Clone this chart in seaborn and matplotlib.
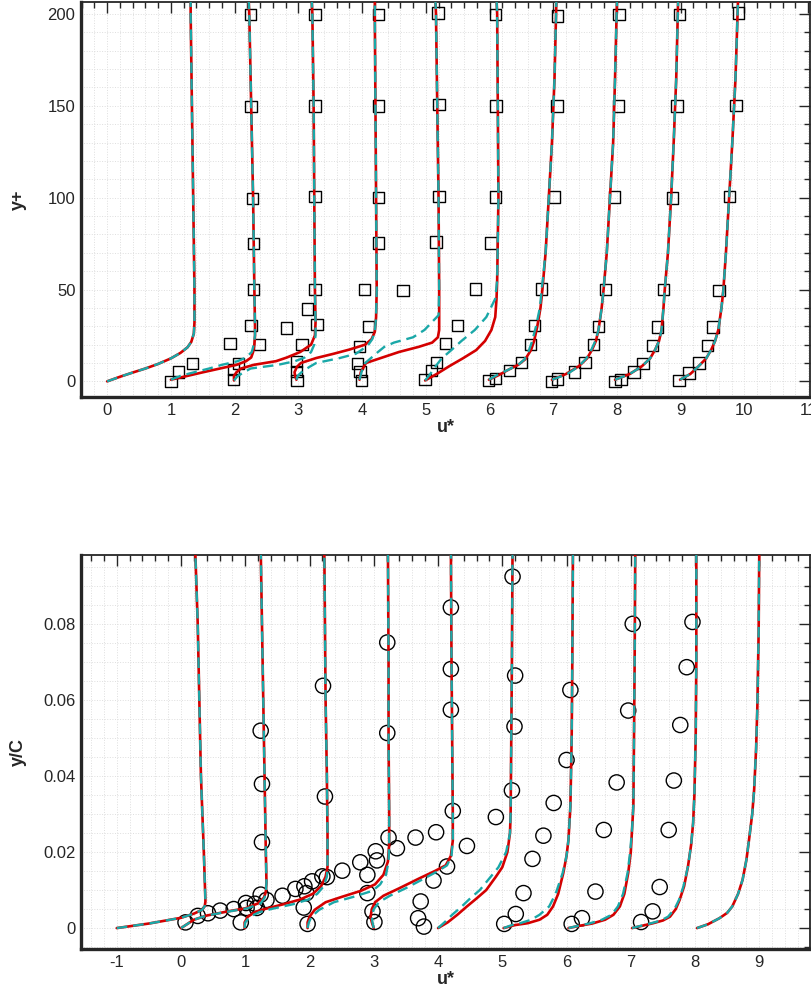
import numpy as np
import pandas as pd
import seaborn as sns
import matplotlib.pyplot as plt
from matplotlib.ticker import MultipleLocator, FuncFormatter

RED = "#d40000"
CYAN = "#1aa8a8"

# ---------------- top panel: y+ vs u* (each station shifted by 1) ----------------
top_y = [
    [0, 2.5, 4.8, 7, 9.5, 12.5, 15.5, 18.5, 21.5, 26, 32, 50, 100, 150, 200, 208],
    [0.9, 3, 5, 7, 9, 11, 13, 16, 20, 25, 30, 50, 100, 150, 200, 208],
    [0.5, 3, 5, 7, 9, 11, 13, 16, 20, 25, 32, 50, 100, 150, 200, 208],
    [0.9, 3, 5, 8, 10, 12.7, 15, 17.3, 20, 23, 27, 35, 50, 100, 150, 200, 208],
    [0.9, 5, 10, 13, 16, 18.8, 21.1, 24, 28, 36, 50, 100, 150, 200, 208],
    [0.5, 4, 8.5, 12.5, 17, 22, 28, 35, 45, 55, 100, 150, 200, 208],
    [0.9, 3.5, 6.4, 9, 12, 17, 22, 30, 40, 50, 70, 100, 130, 165, 208],
    [0.9, 4, 8.2, 12.5, 17.3, 22, 28, 40, 50, 70, 100, 130, 165, 208],
    [0.9, 4, 8.2, 12.5, 17.3, 22, 28, 40, 50, 70, 100, 130, 165, 208],
    [0.9, 4, 8.2, 12.5, 17.3, 22, 28, 40, 50, 70, 100, 130, 165, 208],
]
top_red = [
    [0, 0.2, 0.4, 0.6, 0.8, 1.0, 1.15, 1.26, 1.32, 1.36, 1.37, 1.37, 1.35, 1.33, 1.31, 1.31],
    [1.0, 1.26, 1.51, 1.77, 2.03, 2.18, 2.26, 2.29, 2.31, 2.32, 2.32, 2.31, 2.29, 2.26, 2.23, 2.22],
    [1.99, 1.99, 2.03, 2.1, 2.3, 2.65, 2.82, 3.03, 3.2, 3.26, 3.27, 3.26, 3.25, 3.24, 3.22, 3.21],
    [2.97, 2.95, 2.94, 2.98, 3.04, 3.28, 3.55, 3.8, 4.05, 4.15, 4.2, 4.22, 4.23, 4.22, 4.21, 4.2, 4.2],
    [3.96, 3.98, 4.06, 4.32, 4.58, 4.89, 5.1, 5.19, 5.21, 5.21, 5.21, 5.2, 5.18, 5.16, 5.15],
    [4.99, 5.17, 5.38, 5.58, 5.79, 5.93, 6.03, 6.09, 6.11, 6.12, 6.14, 6.13, 6.12, 6.11],
    [5.99, 6.15, 6.3, 6.45, 6.56, 6.65, 6.7, 6.75, 6.8, 6.83, 6.88, 6.93, 6.98, 7.02, 7.05],
    [6.98, 7.2, 7.4, 7.53, 7.61, 7.67, 7.71, 7.76, 7.79, 7.84, 7.89, 7.94, 7.97, 8.0],
    [7.97, 8.2, 8.39, 8.52, 8.6, 8.66, 8.7, 8.73, 8.75, 8.8, 8.85, 8.89, 8.93, 8.96],
    [8.99, 9.15, 9.28, 9.4, 9.48, 9.54, 9.59, 9.64, 9.67, 9.71, 9.76, 9.81, 9.86, 9.9],
]
# None = dashed model sits on top of the solid one
top_cyan = [
    None,
    [1.0, 1.15, 1.37, 1.6, 1.8, 2.05, 2.18, 2.27, 2.3, 2.32, 2.32, 2.31, 2.29, 2.26, 2.23, 2.22],
    [1.99, 2.05, 2.15, 2.25, 2.68, 2.95, 3.1, 3.2, 3.25, 3.27, 3.27, 3.26, 3.25, 3.24, 3.22, 3.21],
    [2.97, 2.99, 3.05, 3.18, 3.28, 3.65, 3.9, 4.0, 4.1, 4.16, 4.2, 4.22, 4.23, 4.22, 4.21, 4.2, 4.2],
    [3.96, 3.99, 4.05, 4.15, 4.25, 4.35, 4.5, 4.8, 4.98, 5.2, 5.21, 5.2, 5.18, 5.16, 5.15],
    [4.99, 5.07, 5.16, 5.25, 5.4, 5.56, 5.77, 5.95, 6.09, 6.12, 6.14, 6.13, 6.12, 6.11],
    [5.99, 6.12, 6.3, 6.45, 6.55, 6.62, 6.67, 6.73, 6.79, 6.82, 6.88, 6.93, 6.98, 7.02, 7.05],
    [6.98, 7.22, 7.4, 7.52, 7.6, 7.66, 7.71, 7.76, 7.79, 7.84, 7.89, 7.94, 7.97, 8.0],
    None,
    None,
]
top_sq_u = [1.0, 1.12, 1.34, 1.93, 2.26, 2.30, 2.30, 2.28, 2.26, 2.25,
            1.98, 1.98, 2.06, 2.39, 2.81, 3.14, 3.06, 3.29, 3.26, 3.26, 3.26, 3.26,
            2.97, 2.97, 2.98,
            3.93, 3.96, 3.97, 3.99, 4.10, 4.04, 4.26, 4.26, 4.26, 4.26, 4.64,
            4.99, 5.09, 5.17, 5.31, 5.50, 5.78, 5.16, 5.21, 5.21, 5.19,
            6.02, 6.09, 6.10, 6.09,
            5.98, 6.09, 6.31, 6.50, 6.64, 6.71, 6.82, 7.02, 7.06, 7.07,
            6.97, 7.07, 7.33, 7.50, 7.63, 7.71, 7.82, 7.96, 8.02, 8.03,
            7.97, 8.06, 8.27, 8.41, 8.56, 8.64, 8.73, 8.87, 8.94, 8.98,
            8.97, 9.13, 9.29, 9.42, 9.51, 9.60, 9.77, 9.87, 9.91]
top_sq_y = [0, 5.1, 9.6, 20.5, 30.3, 50.1, 75, 99.5, 149.5, 199.6,
            0.9, 6.4, 9.6, 20, 29, 39.4, 20, 30.9, 50.1, 100.5, 150, 199.6,
            10.9, 5.4, 0.4,
            9.6, 19.1, 5.4, 0.4, 30, 50.1, 75.4, 100.1, 149.9, 199.6, 49.5,
            0.9, 5.8, 10.4, 20.5, 30.4, 50.3, 75.8, 100.5, 150.8, 200.4,
            75.2, 100.3, 149.9, 199.8,
            0.4, 1.5, 5.8, 10.4, 20, 30.5, 50.3, 100.3, 149.9, 198.9,
            0, 1.3, 5.1, 10.4, 20, 30, 50, 100.3, 149.9, 199.8,
            0, 0.9, 5.1, 9.6, 19.4, 29.6, 50, 99.9, 149.9, 199.8,
            0.4, 4.6, 10, 19.6, 29.6, 49.6, 100.5, 150.2, 200.4]

# ---------------- bottom panel: y/C vs u* ----------------
bot_y = [
    [0, 0.0012, 0.0027, 0.0038, 0.0048, 0.0058, 0.007, 0.02, 0.04, 0.06, 0.08, 0.1],
    [0, 0.0022, 0.0033, 0.0043, 0.0052, 0.0065, 0.008, 0.0095, 0.012, 0.02, 0.04, 0.06, 0.08, 0.1],
    [0, 0.0015, 0.003, 0.0042, 0.005, 0.0063, 0.0075, 0.009, 0.011, 0.0135, 0.016, 0.025, 0.04, 0.06, 0.08, 0.1],
    [0, 0.0015, 0.003, 0.0048, 0.0068, 0.0082, 0.0098, 0.0115, 0.014, 0.0175, 0.022, 0.03, 0.05, 0.07, 0.1],
    [0, 0.0015, 0.003, 0.005, 0.0068, 0.0085, 0.0105, 0.013, 0.015, 0.0165, 0.019, 0.023, 0.03, 0.05, 0.07, 0.1],
    [0, 0.0015, 0.0035, 0.0057, 0.0078, 0.01, 0.0135, 0.016, 0.02, 0.025, 0.03, 0.05, 0.07, 0.1],
    [0, 0.0008, 0.0013, 0.0022, 0.0035, 0.0057, 0.009, 0.0145, 0.019, 0.0232, 0.032, 0.05, 0.07, 0.1],
    [0, 0.0006, 0.0012, 0.0022, 0.0035, 0.0057, 0.009, 0.0145, 0.02, 0.026, 0.032, 0.05, 0.07, 0.1],
    [0, 0.0007, 0.0013, 0.002, 0.003, 0.005, 0.0074, 0.011, 0.0162, 0.022, 0.0276, 0.035, 0.05, 0.07, 0.1],
    [0, 0.001, 0.0026, 0.004, 0.0057, 0.009, 0.0127, 0.018, 0.0232, 0.03, 0.0364, 0.047, 0.0583, 0.078, 0.1],
]
bot_red = [
    [-1.0, -0.5, 0.0, 0.2, 0.33, 0.37, 0.38, 0.355, 0.31, 0.285, 0.26, 0.22],
    [0, 0.2, 0.4, 0.7, 1.0, 1.2, 1.29, 1.32, 1.33, 1.32, 1.3, 1.28, 1.26, 1.24],
    [0.99, 0.99, 1.04, 1.15, 1.3, 1.6, 1.85, 2.05, 2.18, 2.25, 2.28, 2.28, 2.27, 2.25, 2.24, 2.23],
    [1.97, 1.97, 2.0, 2.08, 2.25, 2.5, 2.8, 3.02, 3.15, 3.22, 3.24, 3.24, 3.23, 3.23, 3.22],
    [3.0, 2.97, 2.95, 2.97, 3.02, 3.15, 3.4, 3.7, 3.95, 4.12, 4.2, 4.23, 4.23, 4.22, 4.21, 4.2],
    [4.0, 4.15, 4.3, 4.45, 4.6, 4.75, 4.9, 5.0, 5.08, 5.12, 5.13, 5.14, 5.15, 5.16],
    [5.02, 5.2, 5.4, 5.58, 5.7, 5.79, 5.87, 5.95, 6.0, 6.03, 6.06, 6.08, 6.09, 6.1],
    [6.03, 6.2, 6.4, 6.6, 6.73, 6.83, 6.9, 6.96, 7.0, 7.02, 7.04, 7.05, 7.06, 7.07],
    [7.02, 7.2, 7.35, 7.5, 7.61, 7.7, 7.76, 7.83, 7.89, 7.94, 7.97, 7.99, 8.01, 8.02, 8.02],
    [8.03, 8.2, 8.38, 8.5, 8.58, 8.67, 8.74, 8.8, 8.84, 8.89, 8.92, 8.95, 8.97, 8.99, 9.0],
]
bot_cyan = [
    None,
    [0, 0.2, 0.4, 0.72, 1.03, 1.24, 1.3, 1.32, 1.33, 1.32, 1.3, 1.28, 1.26, 1.24],
    [0.99, 1.0, 1.07, 1.22, 1.4, 1.75, 1.98, 2.12, 2.22, 2.27, 2.28, 2.28, 2.27, 2.25, 2.24, 2.23],
    [1.97, 1.99, 2.03, 2.15, 2.38, 2.68, 2.98, 3.1, 3.19, 3.23, 3.24, 3.24, 3.23, 3.23, 3.22],
    [3.0, 2.98, 2.97, 3.0, 3.08, 3.25, 3.5, 3.78, 4.0, 4.14, 4.21, 4.23, 4.23, 4.22, 4.21, 4.2],
    [4.0, 4.1, 4.22, 4.37, 4.5, 4.65, 4.82, 4.94, 5.06, 5.12, 5.13, 5.14, 5.15, 5.16],
    [5.02, 5.15, 5.28, 5.45, 5.58, 5.73, 5.83, 5.94, 6.0, 6.03, 6.06, 6.08, 6.09, 6.1],
    [6.03, 6.18, 6.35, 6.55, 6.7, 6.8, 6.88, 6.95, 6.99, 7.02, 7.04, 7.05, 7.06, 7.07],
    [7.02, 7.18, 7.32, 7.47, 7.58, 7.68, 7.75, 7.82, 7.89, 7.94, 7.97, 7.99, 8.01, 8.02, 8.02],
    None,
]
bot_ci_u = [0.07, 0.26, 0.42, 0.61, 0.82, 0.93, 1.01, 1.02, 1.15, 1.18, 1.24, 1.33, 1.26, 1.26, 1.24,
            1.58, 1.78, 1.92, 1.95, 1.97, 1.91, 2.04, 2.20, 2.27, 2.51, 2.24, 2.21,
            2.79, 2.90, 3.03, 3.05, 2.90, 2.98, 3.01, 3.23, 3.36, 3.21, 3.21,
            3.65, 3.73, 3.69, 3.78,
            3.97, 4.45, 4.14, 3.93, 4.23, 4.20, 4.20, 4.20,
            4.90, 5.15, 5.19, 5.20, 5.16, 5.03, 5.21, 5.33, 5.47, 5.64, 5.80, 6.00, 6.06,
            6.08, 6.24, 6.45, 6.58, 6.78, 6.96, 7.03,
            7.16, 7.34, 7.45, 7.59, 7.67, 7.77, 7.87, 7.96]
bot_ci_y = [0.0015, 0.0032, 0.0039, 0.0046, 0.005, 0.0015, 0.0066, 0.0053, 0.0064, 0.0053, 0.0088, 0.0074, 0.0226, 0.0379, 0.0519,
            0.0085, 0.0103, 0.011, 0.0092, 0.0011, 0.0054, 0.0123, 0.0136, 0.0134, 0.0151, 0.0346, 0.0637,
            0.0173, 0.014, 0.0202, 0.0178, 0.0092, 0.0044, 0.0016, 0.0238, 0.021, 0.0513, 0.0751,
            0.0238, 0.007, 0.0026, 0.0004,
            0.0252, 0.0216, 0.0162, 0.0125, 0.0308, 0.0574, 0.0681, 0.0843,
            0.0292, 0.0362, 0.053, 0.0664, 0.0924, 0.0011, 0.0037, 0.0092, 0.0182, 0.0243, 0.0329, 0.0442, 0.0626,
            0.0011, 0.0026, 0.0096, 0.0258, 0.0383, 0.0572, 0.08,
            0.0016, 0.0044, 0.0108, 0.0258, 0.0388, 0.0534, 0.0686, 0.0805]


def profiles_frame(ys, reds, cyans):
    rows = []
    for k, (y, r, c) in enumerate(zip(ys, reds, cyans)):
        c = r if c is None else c
        for yy, rr, cc in zip(y, r, c):
            rows.append((k, "red", rr, yy))
            rows.append((k, "cyan", cc, yy))
    return pd.DataFrame(rows, columns=["station", "model", "u", "y"])


def style_axes(ax, xlim, ylim, xmaj, ymaj, ymin, ylabel, yfmt=None):
    ax.set_xlim(*xlim)
    ax.set_ylim(*ylim)
    ax.xaxis.set_major_locator(MultipleLocator(xmaj))
    ax.xaxis.set_minor_locator(MultipleLocator(0.2))
    ax.yaxis.set_major_locator(MultipleLocator(ymaj))
    ax.yaxis.set_minor_locator(MultipleLocator(ymin))
    if yfmt is not None:
        ax.yaxis.set_major_formatter(FuncFormatter(yfmt))
    ax.xaxis.set_major_formatter(FuncFormatter(lambda v, p: f"{v:.0f}"))
    ax.grid(True, which="both", linestyle=":", color="#dedede", linewidth=0.7)
    ax.set_axisbelow(True)
    ax.tick_params(which="both", direction="in", top=True, right=True,
                   width=1.0, labelsize=12, pad=4)
    ax.tick_params(which="major", length=8)
    ax.tick_params(which="minor", length=4.5)
    for side in ["left", "bottom"]:
        ax.spines[side].set_linewidth(2.4)
    for side in ["top", "right"]:
        ax.spines[side].set_linewidth(1.3)
    ax.set_xlabel("u*", fontsize=13, fontweight="bold", labelpad=1)
    ax.set_ylabel(ylabel, fontsize=13, fontweight="bold")
    ax.yaxis.set_label_coords(-0.074, 0.5)


def draw_profiles(ax, df):
    sns.lineplot(data=df[df["model"] == "red"], x="u", y="y", units="station",
                 estimator=None, sort=False, color=RED, linewidth=1.9,
                 legend=False, ax=ax, zorder=3)
    sns.lineplot(data=df[df["model"] == "cyan"], x="u", y="y", units="station",
                 estimator=None, sort=False, color=CYAN, linewidth=1.7,
                 linestyle=(0, (4.5, 2.5)), legend=False, ax=ax, zorder=4)


sns.set_style("white")
plt.rcParams["font.family"] = ["Liberation Sans", "DejaVu Sans"]

fig = plt.figure(figsize=(8.12, 9.90), dpi=100)
ax_top = fig.add_axes([0.0998, 0.5990, 0.8978, 0.3990])
ax_bot = fig.add_axes([0.0998, 0.0414, 0.8978, 0.3980])

sns.scatterplot(x=top_sq_u, y=top_sq_y, marker="s", s=68, facecolor="none",
                edgecolor="black", linewidth=1.0, ax=ax_top, zorder=2)
draw_profiles(ax_top, profiles_frame(top_y, top_red, top_cyan))
style_axes(ax_top, (-0.41, 11.03), (-8.5, 206.5), 1, 50, 10, "y+")

sns.scatterplot(x=bot_ci_u, y=bot_ci_y, marker="o", s=120, facecolor="none",
                edgecolor="black", linewidth=1.0, ax=ax_bot, zorder=2)
draw_profiles(ax_bot, profiles_frame(bot_y, bot_red, bot_cyan))
style_axes(ax_bot, (-1.556, 9.79), (-0.0055, 0.0981), 1, 0.02, 0.005, "y/C",
           yfmt=lambda v, p: "0" if abs(v) < 1e-9 else f"{v:.2f}")

fig.savefig("out.png", dpi=100)
